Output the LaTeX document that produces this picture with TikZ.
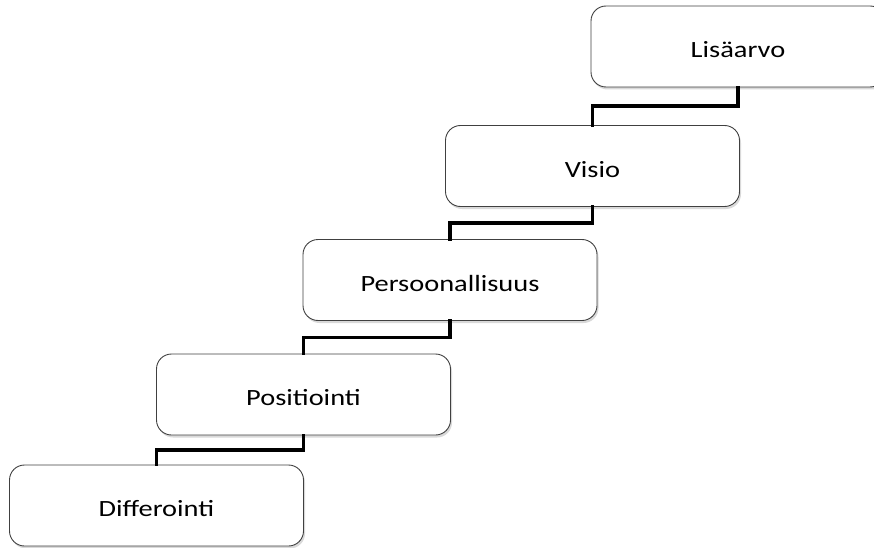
\documentclass[tikz,border=0pt]{standalone}
\usepackage{fontspec}
\setmainfont{Carlito}[FakeStretch=1.22]
\usetikzlibrary{calc,shadows}
\tikzset{
  stair/.style={draw=black!75, line width=0.9pt, fill=white, rounded corners=15pt,
    minimum width=294pt, minimum height=81pt, inner sep=0pt,
    font=\fontsize{23.3}{27}\selectfont, text height=22pt, text depth=0pt,
    drop shadow={shadow xshift=1.5pt, shadow yshift=-2.5pt, opacity=0.25, fill=black!60}},
  link/.style={draw=black, line width=3.5pt, line cap=rect}
}
\begin{document}
\begin{tikzpicture}[x=1pt,y=1pt]
  \useasboundingbox (0,0) rectangle (874,547);
  \clip (0,0) rectangle (874,547);
  % staircase of boxes, bottom to top
  \node[stair] (d) at (156.5,41.5) {Differointi};
  \node[stair] (p) at (303.5,152.5) {Positiointi};
  \node[stair] (s) at (450,267) {Persoonallisuus};
  \node[stair] (v) at (592.5,381) {Visio};
  \node[stair] (l) at (738,500.5) {Lisäarvo};
  % stepped connectors between successive boxes
  \draw[link] (l.south) |- ($(l.south)!.5!(v.north)$) -| (v.north);
  \draw[link] (v.south) |- ($(v.south)!.5!(s.north)$) -| (s.north);
  \draw[link] (s.south) |- ($(s.south)!.5!(p.north)$) -| (p.north);
  \draw[link] (p.south) |- ($(p.south)!.5!(d.north)$) -| (d.north);
\end{tikzpicture}
\end{document}
